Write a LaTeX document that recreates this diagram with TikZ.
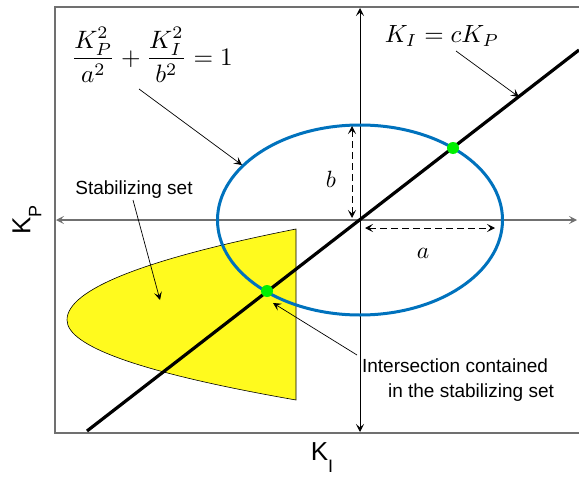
\documentclass[tikz,border=0pt]{standalone}
\usepackage{amsmath}
\usepackage{fontspec}
\setsansfont{Liberation Sans}
\usetikzlibrary{arrows.meta}
\definecolor{ellblue}{HTML}{0072BD}
\definecolor{setyellow}{HTML}{FFFA1E}
\definecolor{dotgreen}{HTML}{00F000}
\definecolor{framegray}{HTML}{707070}
\tikzset{
  tip/.tip={Stealth[length=8pt,width=8pt,inset=3.5pt]},
  axisline/.style={line width=0.9pt,{tip}-{tip}},
  annot/.style={line width=0.7pt,-{tip}},
  dimarrow/.style={line width=0.9pt,dash pattern=on 7pt off 4pt,{tip}-{tip}},
  sanslabel/.style={font=\sffamily\fontsize{19}{24}\selectfont,inner sep=0pt},
  mathlabel/.style={font=\normalsize,inner sep=0pt,scale=2.35},
  axislabel/.style={font=\sffamily\fontsize{26}{30}\selectfont,inner sep=0pt},
  gdot/.style={circle,fill=dotgreen,minimum size=12pt,inner sep=0pt},
}
\begin{document}
\begin{tikzpicture}[x=1pt,y=-1pt]
\useasboundingbox (0,0) rectangle (579,479);
% frame
\draw[framegray,line width=1.2pt] (580,7) -- (55,7) -- (55,433) -- (580,433);
% stabilizing set
\filldraw[fill=setyellow,draw=black,line width=0.6pt]
  (296,229) .. controls (143.3,259.3) and (67,289.7) .. (67,320)
  .. controls (67,346.7) and (143.3,373.3) .. (296,400) -- cycle;
% axes
\draw[axisline,draw=framegray,line width=1.5pt] (56,220) -- (577,220);
\draw[axisline] (360,8) -- (360,432);
% line
\coordinate (l0) at (87,431);
\coordinate (l1) at (579,50);
\draw[line width=3.2pt] (l0) -- (l1);
% ellipse
\draw[ellblue,line width=3pt] (360,220) ellipse [x radius=142.5pt, y radius=95pt];
% intersection dots
\node[gdot] (p1) at (453,148) {};
\node[gdot] (p2) at (267,291) {};
% dimension arrows
\coordinate (btop) at (352,126);
\coordinate (bbot) at (352,218);
\draw[dimarrow] (btop) -- (bbot);
\node[mathlabel] (blab) at (331,179) {$b$};
\coordinate (aleft) at (365,228);
\coordinate (aright) at (495,228);
\draw[dimarrow] (aleft) -- (aright);
\node[mathlabel] (alab) at (423,253) {$a$};
% labels
\node[mathlabel,scale=1.07] (eqn) at (152,55) {$\dfrac{K_P^2}{a^2}+\dfrac{K_I^2}{b^2}=1$};
\node[mathlabel,scale=1.06] (linelab) at (442,36) {$K_I=cK_P$};
\node[sanslabel] (stab) at (134,190) {Stabilizing set};
\node[sanslabel,align=left] (inter) at (458,380) {Intersection contained\\[1pt]\hspace*{26pt}in the stabilizing set};
\node[axislabel,rotate=90] (kp) at (27,220) {K\raisebox{-11pt}{\fontsize{18}{20}\selectfont P}};
\node[axislabel] (ki) at (322,458) {K\raisebox{-12pt}{\fontsize{18}{20}\selectfont I}};
% annotation arrows
\coordinate (e1) at (242,165);
\coordinate (e2) at (519,97);
\coordinate (e3) at (160,300);
\coordinate (e4) at (273,303);
\coordinate (s1) at (139,89);
\coordinate (s2) at (456,51);
\coordinate (s3) at (133,200);
\coordinate (s4) at (357,355);
\draw[annot] (s1) -- (e1);
\draw[annot] (s2) -- (e2);
\draw[annot] (s3) -- (e3);
\draw[annot] (s4) -- (e4);
\end{tikzpicture}
\end{document}
